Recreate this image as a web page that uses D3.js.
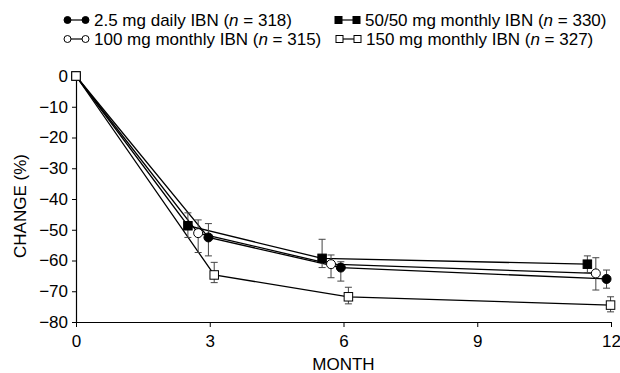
<!DOCTYPE html>
<html>
<head>
<meta charset="utf-8">
<script src="https://cdn.jsdelivr.net/npm/d3@7"></script>
<style>
  body { margin: 0; background: #fff; }
  text { font-family: "Liberation Sans", Arial, sans-serif; fill: #000; }
</style>
</head>
<body>
<div id="chart"></div>
<script>
// series labels and group sizes
const seriesNames = ["2.5 mg daily IBN", "50/50 mg monthly IBN", "100 mg monthly IBN", "150 mg monthly IBN"];
const seriesN = [318, 330, 315, 327];
const seriesMarker = ["circle-filled", "square-filled", "circle-open", "square-open"];

// points are slightly dodged around months 0/3/6/12 in the original
const dailyMonth = [0, 2.97, 5.94, 11.9];
const dailyChange = [0, -52.5, -62.3, -66.0];
const dailyLow = [0, -58.5, -66.7, -69.0];
const dailyHigh = [0, -48.0, -60.4, -63.1];

const fiftyMonth = [0, 2.51, 5.52, 11.47];
const fiftyChange = [0, -48.7, -59.3, -61.2];
const fiftyLow = [0, -52.5, -62.3, -63.9];
const fiftyHigh = [0, -44.5, -53.1, -58.5];

const hundredMonth = [0, 2.74, 5.72, 11.66];
const hundredChange = [0, -51.1, -61.2, -64.2];
const hundredLow = [0, -57.4, -65.6, -69.6];
const hundredHigh = [0, -46.8, -58.2, -59.1];

const oneFiftyMonth = [0, 3.10, 6.11, 11.99];
const oneFiftyChange = [0, -64.7, -71.8, -74.5];
const oneFiftyLow = [0, -67.2, -74.1, -76.7];
const oneFiftyHigh = [0, -60.6, -68.7, -71.8];

const xTicks = [0, 3, 6, 9, 12];
const yTicks = [0, -10, -20, -30, -40, -50, -60, -70, -80];

let width = 620, height = 373;
let margin = { top: 76, right: 9, bottom: 51, left: 76 };
let fontSize = 17;

let svg = d3.select("#chart").append("svg")
    .attr("width", width)
    .attr("height", height);

let x = d3.scaleLinear().domain([0, 12]).range([margin.left, width - margin.right]);
let y = d3.scaleLinear().domain([-80, 0]).range([height - margin.bottom, margin.top]);

// assemble series rows from the arrays above
let months = [dailyMonth, fiftyMonth, hundredMonth, oneFiftyMonth];
let changes = [dailyChange, fiftyChange, hundredChange, oneFiftyChange];
let lows = [dailyLow, fiftyLow, hundredLow, oneFiftyLow];
let highs = [dailyHigh, fiftyHigh, hundredHigh, oneFiftyHigh];

let series = seriesNames.map(function (name, i) {
    return {
        name: name, n: seriesN[i], marker: seriesMarker[i],
        points: months[i].map(function (m, j) {
            return { month: m, value: changes[i][j], lo: lows[i][j], hi: highs[i][j] };
        })
    };
});

// axes
let xAxis = d3.axisBottom(x).tickValues(xTicks).tickSizeInner(5).tickSizeOuter(0).tickPadding(8);
let gx = svg.append("g")
    .attr("transform", "translate(0," + y(-80) + ")")
    .call(xAxis);

let yAxis = d3.axisLeft(y).tickValues(yTicks).tickSizeInner(4).tickSizeOuter(0).tickPadding(4);
let gy = svg.append("g")
    .attr("transform", "translate(" + x(0) + ",0)")
    .call(yAxis);

[gx, gy].forEach(function (g) {
    g.select(".domain").attr("stroke", "#000").attr("stroke-width", 1.2);
    g.selectAll(".tick line").attr("stroke", "#000").attr("stroke-width", 1);
    g.selectAll(".tick text").attr("font-size", fontSize).attr("font-family", null);
});

svg.append("text")
    .attr("x", (x(0) + x(12)) / 2)
    .attr("y", 370)
    .attr("text-anchor", "middle")
    .attr("font-size", fontSize)
    .text("MONTH");

svg.append("text")
    .attr("transform", "translate(26," + 206 + ") rotate(-90)")
    .attr("text-anchor", "middle")
    .attr("font-size", fontSize)
    .text("CHANGE (%)");

// lines
let line = d3.line()
    .x(function (d) { return x(d.month); })
    .y(function (d) { return y(d.value); });

svg.selectAll("path.series")
    .data(series)
    .enter()
    .append("path")
    .attr("class", "series")
    .attr("fill", "none")
    .attr("stroke", "#000")
    .attr("stroke-width", 1.3)
    .attr("d", function (d) { return line(d.points); });

// error bars
let errs = [];
series.forEach(function (s) {
    s.points.forEach(function (p) { if (p.lo !== p.hi) errs.push(p); });
});

let eb = svg.selectAll("g.err")
    .data(errs)
    .enter()
    .append("g")
    .attr("class", "err")
    .attr("stroke", "#444")
    .attr("stroke-width", 1);

eb.append("line")
    .attr("x1", function (d) { return x(d.month); })
    .attr("x2", function (d) { return x(d.month); })
    .attr("y1", function (d) { return y(d.lo); })
    .attr("y2", function (d) { return y(d.hi); });
eb.append("line")
    .attr("x1", function (d) { return x(d.month) - 3.5; })
    .attr("x2", function (d) { return x(d.month) + 3.5; })
    .attr("y1", function (d) { return y(d.lo); })
    .attr("y2", function (d) { return y(d.lo); });
eb.append("line")
    .attr("x1", function (d) { return x(d.month) - 3.5; })
    .attr("x2", function (d) { return x(d.month) + 3.5; })
    .attr("y1", function (d) { return y(d.hi); })
    .attr("y2", function (d) { return y(d.hi); });

function drawMarker(g, type, cx, cy, size) {
    let filled = type.indexOf("filled") >= 0;
    if (type.indexOf("circle") === 0) {
        g.append("circle")
            .attr("cx", cx).attr("cy", cy).attr("r", size / 2)
            .attr("fill", filled ? "#000" : "#fff")
            .attr("stroke", "#000").attr("stroke-width", 1);
    } else {
        g.append("rect")
            .attr("x", cx - size / 2).attr("y", cy - size / 2)
            .attr("width", size).attr("height", size)
            .attr("fill", filled ? "#000" : "#fff")
            .attr("stroke", "#000").attr("stroke-width", 1);
    }
}

// markers
series.forEach(function (s) {
    let g = svg.append("g");
    s.points.forEach(function (p) {
        drawMarker(g, s.marker, x(p.month), y(p.value), s.marker.indexOf("circle") === 0 ? 9 : 8.5);
    });
});

// legend
let legendPos = [[64, 20], [335, 20], [64, 39], [336, 39]];
series.forEach(function (s, i) {
    let g = svg.append("g").attr("transform", "translate(" + legendPos[i][0] + "," + legendPos[i][1] + ")");
    g.append("line").attr("x1", 3).attr("x2", 22).attr("y1", 0).attr("y2", 0)
        .attr("stroke", "#000").attr("stroke-width", 1.2);
    drawMarker(g, s.marker, 3.5, 0, 7);
    drawMarker(g, s.marker, 21.5, 0, 7);
    let t = g.append("text")
        .attr("x", 30)
        .attr("y", 6)
        .attr("font-size", fontSize);
    t.append("tspan").text(s.name + " (");
    t.append("tspan").attr("font-style", "italic").text("n");
    t.append("tspan").text(" = " + s.n + ")");
});
</script>
</body>
</html>
